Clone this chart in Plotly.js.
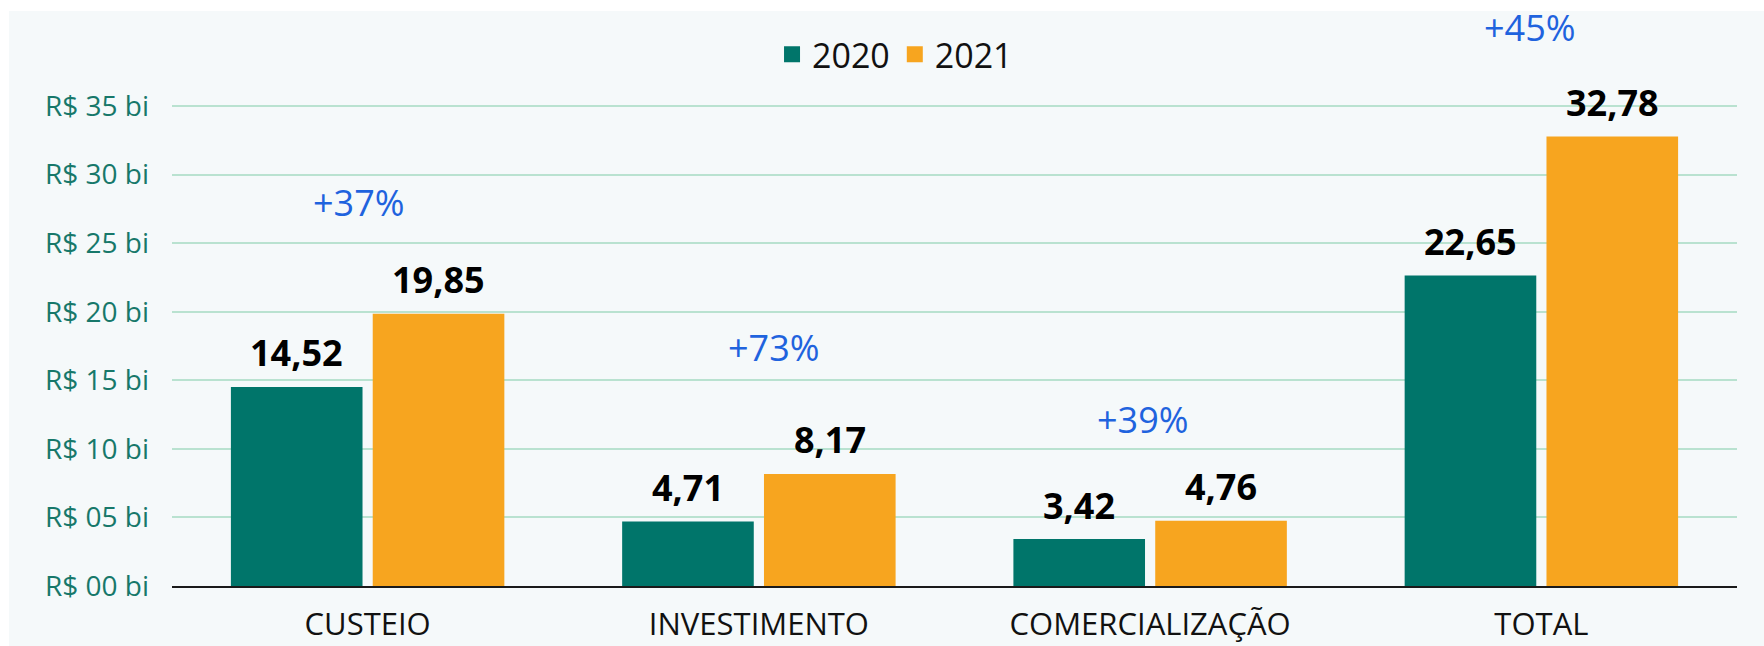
<!DOCTYPE html>
<html>
<head>
<meta charset="utf-8">
<script src="https://cdn.plot.ly/plotly-3.0.1.min.js"></script>
<style>
  html, body { margin: 0; padding: 0; background: #ffffff; width: 1764px; height: 646px; overflow: hidden; }
  #chart { position: absolute; left: 0; top: 0; width: 1764px; height: 646px; }
</style>
</head>
<body>
<div id="chart"></div>
<script>
// ---- data ----
const categories = ["CUSTEIO", "INVESTIMENTO", "COMERCIALIZAÇÃO", "TOTAL"];
const seriesNames = ["2020", "2021"];
const values2020 = [14.52, 4.71, 3.42, 22.65];
const values2021 = [19.85, 8.17, 4.76, 32.78];
const tickValues = [0, 5, 10, 15, 20, 25, 30, 35];
const tickLabels = ["R$ 00 bi", "R$ 05 bi", "R$ 10 bi", "R$ 15 bi", "R$ 20 bi", "R$ 25 bi", "R$ 30 bi", "R$ 35 bi"];

// ---- style ----
const FONT = "'Open Sans', 'Noto Sans', sans-serif";
const colors = ["#00756a", "#f7a51f"];
const PANEL = "#f5f9fa";
const BAR_GAP = 0.275;
const BAR_GROUP_GAP = 0.072;
const W = 1764, H = 646;
const M = { l: 172, r: 27, t: 11, b: 60 };
// pixel nudges for the growth labels (layout only)
const pctShiftX = [-9, 15, -7, -11];
const pctShiftY = [111, 126, 101, 109];

const fmt = v => v.toFixed(2).replace(".", ",");

const traces = [values2020, values2021].map((vals, k) => ({
  type: "bar",
  name: seriesNames[k],
  x: categories,
  y: vals,
  marker: { color: colors[k] },
  showlegend: false,
  hoverinfo: "skip"
}));

// legend proxies (square symbols)
seriesNames.forEach((n, k) => {
  traces.push({
    type: "scatter", mode: "markers", name: n,
    x: [null], y: [null],
    marker: { symbol: "square", size: 18, color: colors[k] },
    hoverinfo: "skip"
  });
});

const annotations = [];
const halfSlot = (1 - BAR_GAP) / 4;
[values2020, values2021].forEach((vals, k) => {
  vals.forEach((v, i) => {
    annotations.push({
      xref: "x", yref: "y",
      x: i + (k === 0 ? -halfSlot : halfSlot), y: v,
      text: "<b>" + fmt(v) + "</b>",
      showarrow: false, yanchor: "middle", yshift: 34,
      font: { family: FONT, size: 36, color: "#000000", weight: 800 }
    });
  });
});
categories.forEach((c, i) => {
  const pct = Math.round((values2021[i] / values2020[i] - 1) * 100);
  annotations.push({
    xref: "x", yref: "y",
    x: i, y: Math.max(values2020[i], values2021[i]),
    text: "+" + pct + "%",
    showarrow: false, yanchor: "middle",
    xshift: pctShiftX[i], yshift: pctShiftY[i],
    font: { family: FONT, size: 36, color: "#1f63de" }
  });
});

const pw = W - M.l - M.r, ph = H - M.t - M.b;

const layout = {
  width: W, height: H,
  margin: { l: M.l, r: M.r, t: M.t, b: M.b, pad: 0 },
  paper_bgcolor: "#ffffff",
  plot_bgcolor: "rgba(0,0,0,0)",
  barmode: "group",
  bargap: BAR_GAP,
  bargroupgap: BAR_GROUP_GAP,
  font: { family: FONT, color: "#000" },
  shapes: [{
    type: "rect", xref: "paper", yref: "paper", layer: "below",
    x0: (9 - M.l) / pw, x1: (W - M.l) / pw,
    y0: -M.b / ph, y1: 1,
    fillcolor: PANEL, line: { width: 0 }
  }],
  xaxis: {
    type: "category",
    showline: true, linecolor: "#1a1a1a", linewidth: 2,
    showgrid: false, zeroline: false,
    ticks: "",
    tickfont: { family: FONT, size: 31, color: "#111111" },
    ticklabelstandoff: 10
  },
  yaxis: {
    range: [0, 41.93],
    tickmode: "array",
    tickvals: tickValues,
    ticktext: tickLabels,
    showgrid: true, gridcolor: "#b9e2d0", gridwidth: 2,
    zeroline: false, showline: false,
    ticks: "",
    tickfont: { family: FONT, size: 28, color: "#17786a" },
    ticklabelstandoff: 22
  },
  legend: {
    orientation: "h",
    x: 0.462, xanchor: "center",
    y: 0.924, yanchor: "middle",
    bgcolor: "rgba(0,0,0,0)",
    font: { family: FONT, size: 34, color: "#111111" },
    itemclick: false, itemdoubleclick: false
  },
  annotations: annotations,
  showlegend: true
};

Plotly.newPlot("chart", traces, layout, { displayModeBar: false, staticPlot: true });
</script>
</body>
</html>
